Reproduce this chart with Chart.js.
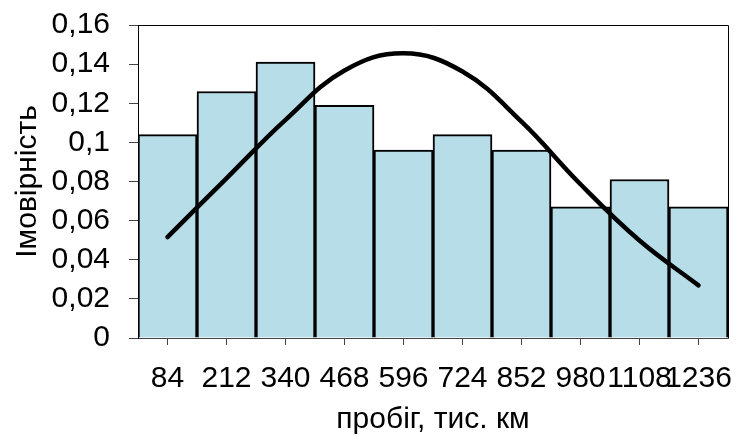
<!DOCTYPE html>
<html>
<head>
<meta charset="utf-8">
<script src="https://cdn.jsdelivr.net/npm/chart.js@4.4.0/dist/chart.umd.min.js"></script>
<style>
html,body{margin:0;padding:0;background:#fff;}
#wrap{width:736px;height:439px;position:relative;}
</style>
</head>
<body>
<div id="wrap"><canvas id="c" width="736" height="439"></canvas></div>
<script>
const categories = ["84","212","340","468","596","724","852","980","1108","1236"];
const frequencies = [0.104,0.126,0.141,0.119,0.096,0.104,0.096,0.067,0.081,0.067];
const normalCurve = [0.0516,0.0816,0.1115,0.1367,0.1455,0.1362,0.1106,0.0786,0.0498,0.0269];
const yTicks = [0,0.02,0.04,0.06,0.08,0.1,0.12,0.14,0.16];

const FONT = "'Liberation Sans', Arial, sans-serif";
const FS = 30;

const framePlugin = {
  id:'frame',
  afterDatasetsDraw(chart){
    const {ctx, chartArea:a} = chart;
    ctx.save();
    ctx.strokeStyle = '#000';
    ctx.lineWidth = 1;
    ctx.beginPath();
    ctx.moveTo(a.left, a.top+0.5);
    ctx.lineTo(a.right+0.5, a.top+0.5);
    ctx.lineTo(a.right+0.5, a.bottom);
    ctx.stroke();
    ctx.restore();
  }
};

new Chart(document.getElementById('c'), {
  data:{
    labels: categories,
    datasets:[
      {type:'line', data: normalCurve, borderColor:'#000', borderWidth:4.5, pointRadius:0,
       tension:0.4, fill:false, borderCapStyle:'round', order:0},
      {type:'bar', data: frequencies, backgroundColor:'#B7DDE8', borderColor:'#000',
       borderWidth:2, barPercentage:1, categoryPercentage:1, order:1}
    ]
  },
  options:{
    responsive:false,
    animation:false,
    devicePixelRatio:1,
    layout:{padding:{top:25,right:8,left:0,bottom:0}},
    plugins:{legend:{display:false}, tooltip:{enabled:false}},
    scales:{
      x:{
        offset:true,
        grid:{display:true, drawOnChartArea:false, offset:false, tickLength:7, tickColor:'#444'},
        border:{color:'#444', width:1},
        ticks:{font:{family:FONT,size:FS}, color:'#000', maxRotation:0, autoSkip:false, padding:16},
        title:{display:true, text:'пробіг, тис. км', font:{family:FONT,size:FS}, color:'#000', padding:{top:0,bottom:1}},
        afterFit(s){ s.height = 101; s.paddingLeft = 0; s.paddingRight = 0; }
      },
      y:{
        min:0, max:0.16,
        afterBuildTicks(s){ s.ticks = yTicks.map(v=>({value:v})); },
        grid:{display:true, drawOnChartArea:false, tickLength:9, tickColor:'#444'},
        border:{color:'#000', width:1},
        ticks:{font:{family:FONT,size:FS}, color:'#000', padding:19, autoSkip:false,
          callback:(v)=>String(v).replace('.',',')},
        title:{display:true, text:'Імовірність', font:{family:FONT,size:FS}, color:'#000', padding:{top:10,bottom:0}},
        afterFit(s){ s.width = 138; s.paddingTop = 0; s.paddingBottom = 0; }
      }
    }
  },
  plugins:[framePlugin]
});
</script>
</body>
</html>
